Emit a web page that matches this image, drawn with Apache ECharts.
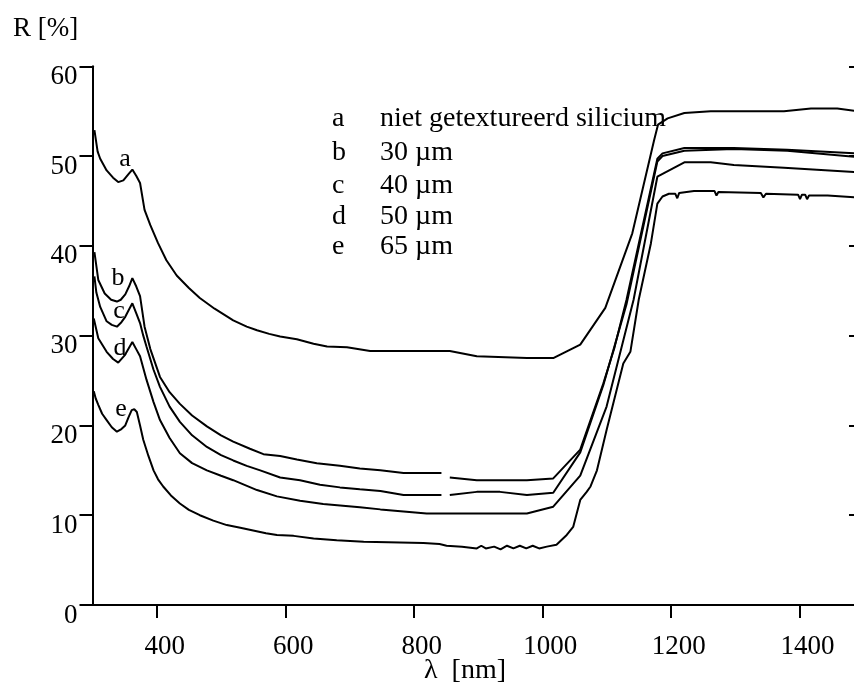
<!DOCTYPE html>
<html>
<head>
<meta charset="utf-8">
<script src="https://cdn.jsdelivr.net/npm/echarts@6/dist/echarts.min.js"></script>
<style>
html,body{margin:0;padding:0;background:#fff;}
#chart{width:854px;height:694px;}
</style>
</head>
<body>
<div id="chart"></div>
<script>
// ---- data (wavelength nm, reflectance %) ----
var seriesNames = ['a', 'b', 'c', 'd', 'e'];
var legendTexts = ['niet getextureerd silicium', '30 µm', '40 µm', '50 µm', '65 µm'];
var xTickValues = [400, 600, 800, 1000, 1200, 1400];
var yTickValues = [0, 10, 20, 30, 40, 50, 60];

var curveA = [[303,52.9],[308,50.5],[312,49.7],[322,48.4],[332,47.6],[340,47.1],[348,47.3],[356,48.0],[362,48.5],[368,47.8],[374,47.0],[381,44.0],[390,42.3],[402,40.3],[415,38.4],[431,36.7],[450,35.3],[467,34.2],[490,33.0],[519,31.7],[540,31.0],[556,30.6],[575,30.2],[592,29.9],[618,29.6],[644,29.1],[665,28.8],[696,28.7],[732,28.3],[856,28.3],[898,27.7],[976,27.5],[1017,27.5],[1059,29.0],[1098,33.1],[1140,41.4],[1174,51.8],[1180,53.5],[1195,54.2],[1221,54.8],[1262,55.0],[1376,55.0],[1418,55.3],[1459,55.3],[1490,55.0]];
var curveB = [[303,39.3],[309,36.2],[319,34.7],[329,34.0],[338,33.8],[344,34.0],[351,34.6],[357,35.5],[362,36.4],[368,35.5],[374,34.4],[381,31.0],[390,28.5],[405,25.4],[420,23.7],[436,22.4],[455,21.1],[478,19.9],[500,18.9],[519,18.2],[545,17.4],[566,16.8],[592,16.6],[618,16.2],[649,15.8],[685,15.5],[716,15.2],[748,15.0],[784,14.7],[843,14.7],null,[856,14.2],[898,13.9],[976,13.9],[1017,14.1],[1059,17.3],[1095,24.7],[1112,28.6],[1131,34.0],[1179,49.7],[1187,50.3],[1221,50.9],[1298,50.9],[1381,50.7],[1490,50.3]];
var curveC = [[303,36.6],[306,34.8],[312,33.2],[322,31.6],[330,31.2],[338,31.0],[345,31.5],[351,32.1],[356,32.8],[362,33.6],[368,32.5],[374,31.4],[379,30.0],[384,28.8],[395,26.2],[405,24.3],[420,22.1],[436,20.4],[455,18.9],[478,17.6],[500,16.7],[519,16.1],[540,15.5],[561,15.0],[592,14.2],[623,13.9],[654,13.4],[685,13.1],[716,12.9],[748,12.7],[784,12.25],[843,12.25],null,[856,12.25],[898,12.6],[934,12.6],[976,12.25],[1017,12.5],[1059,17.0],[1095,24.5],[1131,33.5],[1179,49.4],[1187,50.0],[1221,50.6],[1298,50.8],[1381,50.6],[1490,49.9]];
var curveD = [[302,31.9],[309,29.7],[322,28.2],[332,27.4],[340,27.0],[350,27.8],[362,29.3],[368,28.5],[374,27.7],[384,25.1],[395,22.6],[405,20.6],[420,18.6],[436,16.9],[455,15.8],[478,15.0],[500,14.4],[519,13.9],[556,12.8],[587,12.1],[623,11.6],[659,11.25],[716,10.9],[748,10.65],[820,10.2],[976,10.2],[1017,10.95],[1059,14.4],[1100,22.1],[1142,34.0],[1179,47.7],[1221,49.3],[1262,49.3],[1298,49.0],[1376,48.7],[1490,48.2]];
var curveE = [[302,23.8],[305,23.0],[309,22.3],[315,21.3],[322,20.6],[330,19.8],[338,19.3],[345,19.6],[351,20.0],[356,20.9],[361,21.7],[365,21.8],[369,21.5],[374,20.0],[379,18.4],[387,16.6],[395,15.0],[402,14.0],[410,13.2],[422,12.2],[436,11.3],[450,10.6],[467,10.0],[488,9.4],[509,8.9],[530,8.6],[550,8.3],[570,8.0],[587,7.8],[613,7.7],[644,7.4],[680,7.2],[722,7.05],[760,7.0],[815,6.9],[840,6.8],[851,6.6],[875,6.5],[898,6.3],[905,6.6],[912,6.3],[925,6.5],[935,6.2],[945,6.6],[955,6.3],[965,6.6],[975,6.3],[985,6.6],[995,6.3],[1007,6.5],[1022,6.7],[1038,7.8],[1048,8.7],[1059,11.7],[1069,12.6],[1075,13.2],[1085,15.0],[1100,19.5],[1126,26.9],[1137,28.2],[1150,34.0],[1169,40.3],[1179,44.7],[1187,45.5],[1197,45.8],[1207,45.8],[1210,45.3],[1213,45.9],[1236,46.1],[1268,46.1],[1271,45.6],[1274,46.0],[1340,45.9],[1344,45.4],[1348,45.8],[1398,45.7],[1401,45.2],[1404,45.7],[1409,45.7],[1412,45.2],[1415,45.6],[1444,45.6],[1490,45.4]];

// curve tag positions (data units)
var tagPositions = [[350.6,49.7],[339.7,36.4],[341.2,32.7],[342.8,28.6],[344.4,21.8]];

var curves = [curveA, curveB, curveC, curveD, curveE];
var FONT = 'Liberation Serif';

var chart = echarts.init(document.getElementById('chart'), null, {renderer: 'canvas'});

var series = curves.map(function (c, i) {
  return {
    name: seriesNames[i],
    type: 'line',
    data: c,
    showSymbol: false,
    symbol: 'none',
    connectNulls: false,
    silent: true,
    animation: false,
    lineStyle: {color: '#000', width: 2},
    markPoint: {
      symbol: 'circle',
      symbolSize: 1,
      itemStyle: {color: 'rgba(0,0,0,0)'},
      label: {show: true, position: 'inside', formatter: seriesNames[i], color: '#000', fontFamily: FONT, fontSize: 26},
      data: [{coord: tagPositions[i]}]
    }
  };
});

var graphics = [
  {type: 'text', left: 13, top: 15, style: {text: 'R [%]', font: '27px "Liberation Serif"', fill: '#000'}},
  {type: 'text', x: 465, y: 671, style: {text: 'λ  [nm]', font: '28px "Liberation Serif"', fill: '#000', textAlign: 'center', textVerticalAlign: 'middle'}}
];
var legendY = [119, 153, 186, 217, 247];
seriesNames.forEach(function (k, i) {
  graphics.push({type: 'text', x: 332, y: legendY[i], style: {text: k, font: '28px "Liberation Serif"', fill: '#000', textVerticalAlign: 'middle'}});
  graphics.push({type: 'text', x: 380, y: legendY[i], style: {text: legendTexts[i], font: '28px "Liberation Serif"', fill: '#000', textVerticalAlign: 'middle'}});
});

var axisLineStyle = {show: true, lineStyle: {color: '#000', width: 2}};
function plain(v) { return String(v); }

chart.setOption({
  animation: false,
  backgroundColor: '#fff',
  grid: {left: 92.5, top: 66.3, right: 0, bottom: 89, containLabel: false},
  xAxis: [{
    type: 'value', min: 300, max: 1485, position: 'bottom',
    axisLine: axisLineStyle,
    axisTick: {show: true, inside: false, length: 13, lineStyle: {color: '#000', width: 2}, customValues: xTickValues},
    axisLabel: {show: true, customValues: xTickValues, formatter: plain, margin: 28, color: '#000', fontFamily: FONT, fontSize: 27, padding: [0, 0, 0, 16]},
    splitLine: {show: false}
  }, {
    type: 'value', min: 300, max: 1485, position: 'top',
    axisLine: axisLineStyle,
    axisTick: {show: true, inside: true, length: 10, lineStyle: {color: '#000', width: 2}, customValues: xTickValues},
    axisLabel: {show: false},
    splitLine: {show: false}
  }],
  yAxis: [{
    type: 'value', min: 0, max: 60, position: 'left',
    axisLine: axisLineStyle,
    axisTick: {show: true, inside: false, length: 13, lineStyle: {color: '#000', width: 2}, customValues: yTickValues},
    axisLabel: {show: true, customValues: yTickValues, formatter: plain, margin: 15, color: '#000', fontFamily: FONT, fontSize: 27, verticalAlign: 'top', lineHeight: 21},
    splitLine: {show: false}
  }, {
    type: 'value', min: 0, max: 60, position: 'right',
    axisLine: {show: false},
    axisTick: {show: true, inside: true, length: 5, lineStyle: {color: '#000', width: 2}, customValues: yTickValues},
    axisLabel: {show: false},
    splitLine: {show: false}
  }],
  series: series,
  graphic: graphics
});
</script>
</body>
</html>
